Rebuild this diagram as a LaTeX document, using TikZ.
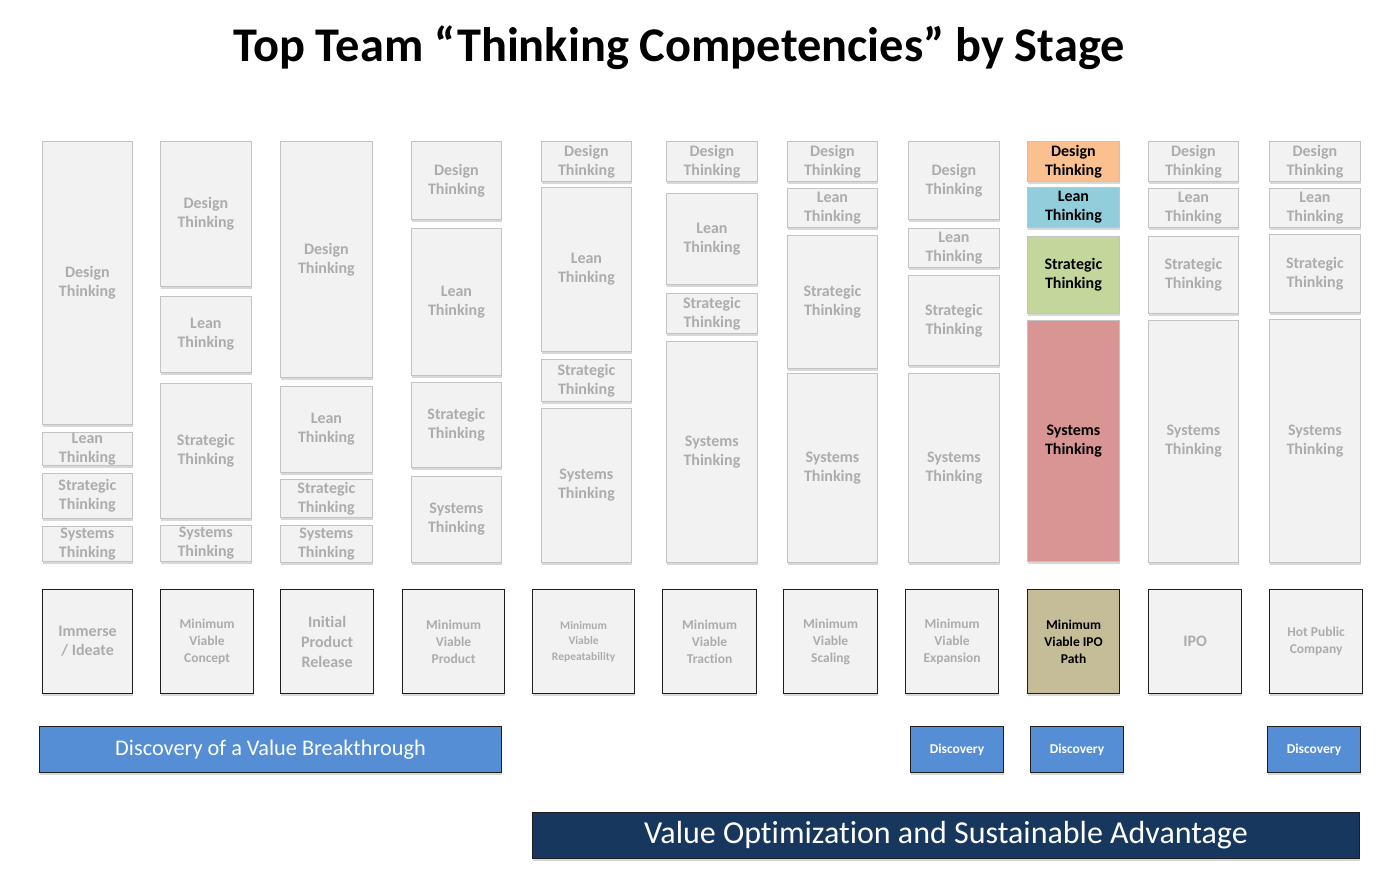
\documentclass[tikz,border=0pt]{standalone}
\usepackage{fontspec}
\setmainfont{Carlito}[Ligatures={NoCommon}]
\usetikzlibrary{shadows}
\definecolor{boxfill}{RGB}{242,242,242}
\definecolor{boxline}{RGB}{195,195,195}
\definecolor{txtgray}{RGB}{172,172,172}
\definecolor{cdesign}{RGB}{250,192,144}
\definecolor{clean}{RGB}{146,205,220}
\definecolor{cstrat}{RGB}{195,214,155}
\definecolor{csys}{RGB}{217,149,148}
\definecolor{cstage}{RGB}{196,189,151}
\definecolor{cblue}{RGB}{85,142,213}
\definecolor{cnavy}{RGB}{23,55,94}
\definecolor{darkline}{RGB}{30,30,30}
\tikzset{
  shad/.style={drop shadow={shadow xshift=0.5pt,shadow yshift=-2.5pt,opacity=0.3}},
  comp/.style={draw=boxline,line width=0.8pt,inner sep=0pt,anchor=north west,shad},
  comptext/.style={font=\fontsize{16}{19}\selectfont\bfseries,align=center,inner sep=0pt},
  stagebox/.style={draw=darkline,line width=1.2pt,fill=boxfill,inner sep=0pt,anchor=north west,
    align=center,text=txtgray,shad,minimum width=#1},
  barbox/.style={draw=darkline,line width=1pt,fill=cblue,inner sep=0pt,anchor=north west,
    align=center,text=white,shad},
}
\newcommand\cbox[8]{%
  \node[comp,fill=#6,minimum width={(#4-#2)*1pt},minimum height={(#5-#3)*1pt}] (#1) at (#2,#3) {};
  \node[comptext,text=#7] (#1t) at (#1.center) {#8};}
\begin{document}
\begin{tikzpicture}[x=1pt,y=-1pt]
\useasboundingbox[fill=white] (0,0) rectangle (1400,896);
\node[font=\fontsize{48.4}{56}\selectfont\bfseries,anchor=base] (title) at (679,62) {Top Team “Thinking Competencies” by Stage};
% competency columns
\foreach \c/\xa/\xb/\da/\db/\la/\lb/\sa/\sb/\ya/\yb in {
  1/42/132/141/424/432/465/473/518/526/561,
  2/160/251/141/286/296/372/383/518/525/561,
  3/280/372/141/377/386/472/479/517/525/562,
  4/411/501/141/219/228/375/382/467/476/562,
  5/541/631/141/181/187/351/359/401/408/562,
  6/666/757/141/181/193/284/293/333/341/562,
  7/787/877/141/181/188/227/235/368/373/562,
  8/908/999/141/219/228/267/275/365/373/562,
  10/1148/1238/141/181/188/227/236/313/320/562,
  11/1269/1360/141/181/188/227/234/312/319/562}{
  \cbox{d\c}{\xa}{\da}{\xb}{\db}{boxfill}{txtgray}{Design\\Thinking}
  \cbox{l\c}{\xa}{\la}{\xb}{\lb}{boxfill}{txtgray}{Lean\\Thinking}
  \cbox{s\c}{\xa}{\sa}{\xb}{\sb}{boxfill}{txtgray}{Strategic\\Thinking}
  \cbox{y\c}{\xa}{\ya}{\xb}{\yb}{boxfill}{txtgray}{Systems\\Thinking}
}
\cbox{d9}{1027}{141}{1119}{181}{cdesign}{black}{Design\\Thinking}
\cbox{l9}{1027}{187}{1119}{227}{clean}{black}{Lean\\Thinking}
\cbox{s9}{1027}{236}{1119}{313}{cstrat}{black}{Strategic\\Thinking}
\cbox{y9}{1027}{320}{1119}{561}{csys}{black}{Systems\\Thinking}
% stage boxes
\tikzset{minimum height=104pt}
\node[stagebox=90pt,font=\fontsize{16}{19}\selectfont\bfseries] (st1) at (42,589) {Immerse\\/ Ideate};
\node[stagebox=93pt,font=\fontsize{13.5}{17}\selectfont\bfseries] (st2) at (160,589) {Minimum\\Viable\\Concept};
\node[stagebox=93pt,font=\fontsize{16}{20}\selectfont\bfseries] (st3) at (280,589) {Initial\\Product\\Release};
\node[stagebox=102pt,font=\fontsize{13.5}{17}\selectfont\bfseries] (st4) at (402,589) {Minimum\\Viable\\Product};
\node[stagebox=102pt,font=\fontsize{11.5}{15.5}\selectfont\bfseries] (st5) at (532,589) {Minimum\\Viable\\Repeatability};
\node[stagebox=94pt,font=\fontsize{13.5}{17}\selectfont\bfseries] (st6) at (662,589) {Minimum\\Viable\\Traction};
\node[stagebox=94pt,font=\fontsize{13.5}{17}\selectfont\bfseries] (st7) at (783,589) {Minimum\\Viable\\Scaling};
\node[stagebox=93pt,font=\fontsize{13.5}{17}\selectfont\bfseries] (st8) at (905,589) {Minimum\\Viable\\Expansion};
\node[stagebox=92pt,fill=cstage,text=black,font=\fontsize{13.5}{17}\selectfont\bfseries] (st9) at (1027,589) {Minimum\\Viable IPO\\Path};
\node[stagebox=93pt,font=\fontsize{16}{19}\selectfont\bfseries] (st10) at (1148,589) {IPO};
\node[stagebox=93pt,font=\fontsize{13.5}{17}\selectfont\bfseries] (st11) at (1269,589) {Hot Public\\Company};
% bars
\node[barbox,minimum width=462pt,minimum height=46pt,font=\fontsize{22.3}{26}\selectfont] (vb) at (39,726) {Discovery of a Value Breakthrough};
\node[barbox,minimum width=93pt,minimum height=46pt,font=\fontsize{13.5}{16}\selectfont\bfseries] (disc8) at (910,726) {Discovery};
\node[barbox,minimum width=93pt,minimum height=46pt,font=\fontsize{13.5}{16}\selectfont\bfseries] (disc9) at (1030,726) {Discovery};
\node[barbox,minimum width=93pt,minimum height=46pt,font=\fontsize{13.5}{16}\selectfont\bfseries] (disc11) at (1267,726) {Discovery};
\node[barbox,fill=cnavy,minimum width=827pt,minimum height=46pt,font=\fontsize{32}{36}\selectfont] (vo) at (532,812) {Value Optimization and Sustainable Advantage};
\end{tikzpicture}
\end{document}
